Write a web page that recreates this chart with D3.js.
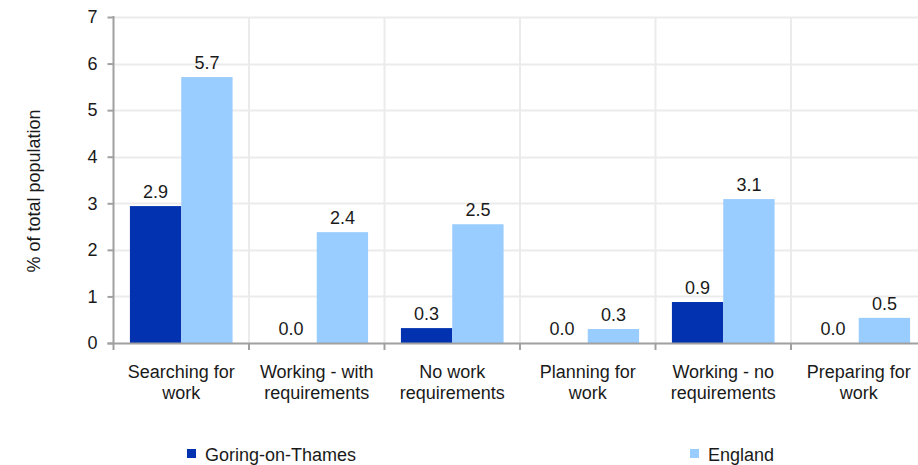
<!DOCTYPE html>
<html><head><meta charset="utf-8">
<script src="https://cdn.jsdelivr.net/npm/d3@7"></script>
<style>body{margin:0;background:#fff;}svg{display:block;font-family:"Liberation Sans",Arial,sans-serif;}</style>
</head><body><svg id="c" width="918" height="465"></svg>
<script>
const categories = [["Searching for","work"],["Working - with","requirements"],["No work","requirements"],["Planning for","work"],["Working - no","requirements"],["Preparing for","work"]];
const seriesNames = ["Goring-on-Thames","England"];
const goring = [2.94, 0.0, 0.32, 0.0, 0.88, 0.0];
const england = [5.71, 2.38, 2.55, 0.30, 3.09, 0.54];
const yTicks = [0,1,2,3,4,5,6,7];
const colors = ["#0232b0","#99ccff"];

const svg = d3.select("#c");
const FS = 18;
const pLeft = 113.5, pRight = 926.5, pTop = 17, pBottom = 343;
const x = d3.scaleBand().domain(d3.range(categories.length)).range([pLeft, pRight]).paddingInner(0).paddingOuter(0);
const inner = d3.scaleBand().domain([0,1]).range([0, x.bandwidth()]).paddingInner(0).paddingOuter(0.32);
const y = d3.scaleLinear().domain([0,7]).range([pBottom, pTop]);

// gridlines
svg.append("g").selectAll("line").data(yTicks.slice(1)).join("line")
  .attr("x1", pLeft).attr("x2", pRight).attr("y1", d=>Math.round(y(d))+0.5).attr("y2", d=>Math.round(y(d))+0.5)
  .attr("stroke","#ebebeb").attr("stroke-width",2);
svg.append("g").selectAll("line").data(d3.range(1,categories.length+1)).join("line")
  .attr("x1", d=>x(0)+d*x.bandwidth()).attr("x2", d=>x(0)+d*x.bandwidth()).attr("y1", pTop).attr("y2", pBottom)
  .attr("stroke","#ebebeb").attr("stroke-width",2);

const data = [goring, england];
const g = svg.append("g");
data.forEach((vals, si) => {
  g.append("g").selectAll("rect").data(vals).join("rect")
    .attr("x", (d,i)=>x(i)+inner(si)).attr("width", inner.bandwidth())
    .attr("y", d=>y(d)).attr("height", d=>y(0)-y(d)).attr("fill", colors[si]);
  g.append("g").selectAll("text").data(vals).join("text")
    .attr("x", (d,i)=>x(i)+inner(si)+inner.bandwidth()/2).attr("y", d=>y(d)-8)
    .attr("text-anchor","middle").attr("font-size",FS).attr("fill","#1a1a1a")
    .text(d=>d3.format(".1f")(d));
});

// y axis
const yAxis = svg.append("g").attr("transform",`translate(${pLeft},0)`)
  .call(d3.axisLeft(y).tickValues(yTicks).tickSize(6).tickPadding(10).tickFormat(d3.format("d")));
yAxis.select(".domain").attr("stroke","#a0a0a0").attr("stroke-width",2).attr("d",`M0,${pTop-1}V${pBottom}`);
yAxis.selectAll(".tick line").attr("stroke","#a0a0a0").attr("stroke-width",2);
yAxis.selectAll(".tick text").attr("font-size",FS).attr("fill","#1a1a1a").attr("font-family","Liberation Sans, Arial, sans-serif");

// x axis
svg.append("line").attr("x1",pLeft-6).attr("x2",pRight).attr("y1",pBottom+0.5).attr("y2",pBottom+0.5).attr("stroke","#a0a0a0").attr("stroke-width",2);
svg.append("g").selectAll("line").data(d3.range(0,categories.length+1)).join("line")
  .attr("x1", d=>x(0)+d*x.bandwidth()).attr("x2", d=>x(0)+d*x.bandwidth()).attr("y1", pBottom).attr("y2", pBottom+7)
  .attr("stroke","#a0a0a0").attr("stroke-width",2);
const cl = svg.append("g").selectAll("text").data(categories).join("text")
  .attr("x",(d,i)=>x(i)+x.bandwidth()/2).attr("y",378).attr("text-anchor","middle").attr("font-size",FS).attr("fill","#1a1a1a");
cl.selectAll("tspan").data(d=>d).join("tspan").attr("x",function(){return this.parentNode.getAttribute("x");})
  .attr("dy",(d,i)=>i===0?0:20.5).text(d=>d);

// y label
svg.append("text").attr("transform","translate(40,191) rotate(-90)").attr("text-anchor","middle")
  .attr("font-size",FS).attr("fill","#1a1a1a").text("% of total population");

// legend
const legX = [187, 690];
seriesNames.forEach((n,i)=>{
  svg.append("rect").attr("x",legX[i]).attr("y",449).attr("width",9).attr("height",9).attr("fill",colors[i]);
  svg.append("text").attr("x",legX[i]+18).attr("y",461).attr("font-size",FS).attr("fill","#1a1a1a").text(n);
});
</script></body></html>
